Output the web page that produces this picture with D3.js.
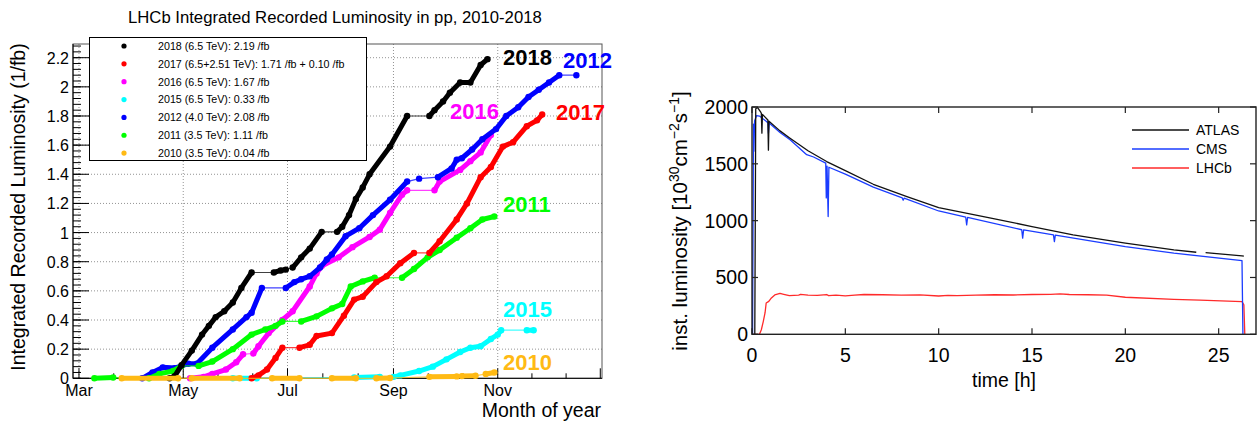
<!DOCTYPE html>
<html><head><meta charset="utf-8">
<script src="https://cdn.jsdelivr.net/npm/d3@7"></script>
<style>
html,body{margin:0;padding:0;background:#fff;}
svg{display:block;font-family:"Liberation Sans",Arial,Helvetica,sans-serif;}
</style></head><body>
<svg id="c" width="1260" height="423"></svg>
<script>
// ================= LEFT PANEL DATA (LHCb integrated luminosity) =================
const monthTicks = ["03-01","05-01","07-01","09-01","11-01","12-31"];
const monthLabels = ["Mar","May","Jul","Sep","Nov",""];
const lumiTicks = [0,0.2,0.4,0.6,0.8,1,1.2,1.4,1.6,1.8,2,2.2];
const lumiTickLabels = ["0","0.2","0.4","0.6","0.8","1","1.2","1.4","1.6","1.8","2","2.2"];

const legendYears = ["2018","2017","2016","2015","2012","2011","2010"];
const legendTexts = [
  "2018 (6.5 TeV): 2.19 /fb",
  "2017 (6.5+2.51 TeV): 1.71 /fb + 0.10 /fb",
  "2016 (6.5 TeV): 1.67 /fb",
  "2015 (6.5 TeV): 0.33 /fb",
  "2012 (4.0 TeV): 2.08 /fb",
  "2011 (3.5 TeV): 1.11 /fb",
  "2010 (3.5 TeV): 0.04 /fb"
];

// each year: list of data-taking runs, each run a list of [month-day, integrated lumi (1/fb)]
const lumi2018 = [
  [["04-23",0],["04-26",0.015],["04-30",0.09],["05-06",0.19],["05-12",0.30],["05-16",0.36],["05-20",0.42],["05-25",0.46],["05-30",0.52],["06-04",0.62],["06-10",0.726]],
  [["06-23",0.726],["06-27",0.74],["06-30",0.746]],
  [["07-04",0.76],["07-09",0.83],["07-14",0.89],["07-21",1.005]],
  [["07-30",1.005],["08-02",1.04],["08-06",1.12],["08-10",1.23],["08-14",1.31],["08-18",1.40],["08-30",1.59],["09-09",1.80]],
  [["09-22",1.80],["09-25",1.84],["09-30",1.90],["10-04",1.96],["10-10",2.03],["10-16",2.03],["10-22",2.15],["10-26",2.19]]
];
const lumi2017 = [
  [["06-10",0],["06-14",0.02],["06-19",0.06],["06-24",0.14],["06-28",0.21]],
  [["07-08",0.21],["07-14",0.23],["07-18",0.29],["07-27",0.31],["08-03",0.43],["08-09",0.54],["08-14",0.56],["08-22",0.66],["08-28",0.70],["09-05",0.79],["09-13",0.86]],
  [["09-22",0.86],["09-28",0.94],["10-08",1.09],["10-14",1.20],["10-22",1.38],["10-28",1.45],["11-04",1.59],["11-10",1.62],["11-18",1.73],["11-24",1.77],["11-27",1.81]]
];
const lumi2016 = [
  [["05-05",0],["05-13",0.01],["05-18",0.03],["05-26",0.06],["06-01",0.11],["06-05",0.165]],
  [["06-11",0.17],["06-14",0.22],["06-20",0.31],["06-28",0.40],["07-04",0.46],["07-14",0.63],["07-18",0.72],["07-21",0.77],["07-31",0.83],["08-08",0.90],["08-18",0.97],["08-24",1.02],["08-30",1.135],["09-06",1.26],["09-09",1.29]],
  [["09-25",1.29],["09-28",1.35],["10-10",1.43],["10-16",1.49],["10-22",1.55],["10-28",1.67]]
];
const lumi2015 = [
  [["05-30",0],["06-13",0]],
  [["08-09",0.005],["08-24",0.01]],
  [["09-01",0.01],["09-05",0.02],["09-16",0.05],["09-24",0.08],["10-02",0.13],["10-10",0.18],["10-16",0.21],["10-22",0.22],["10-28",0.27],["11-01",0.30],["11-03",0.33]],
  [["11-18",0.33],["11-22",0.33]]
];
const lumi2012 = [
  [["04-07",0],["04-13",0.04],["04-19",0.075],["04-26",0.07],["05-04",0.10],["05-09",0.10],["05-18",0.21],["05-30",0.335],["06-07",0.42],["06-10",0.45],["06-16",0.62]],
  [["06-30",0.62],["07-05",0.66],["07-09",0.68],["07-14",0.70],["07-20",0.76],["07-24",0.815],["07-27",0.85],["08-04",0.975],["08-12",1.03],["08-20",1.12],["08-30",1.225],["09-09",1.35]],
  [["09-16",1.37]],
  [["09-27",1.38],["10-05",1.44],["10-08",1.50],["10-11",1.51],["10-17",1.57],["10-23",1.64],["10-31",1.71],["11-06",1.80],["11-13",1.86],["11-19",1.93],["11-25",1.98],["12-01",2.03],["12-07",2.08]],
  [["12-17",2.08]]
];
const lumi2011 = [
  [["03-10",0],["03-21",0.005]],
  [["04-11",0],["04-17",0.03],["04-25",0.05],["04-30",0.085]],
  [["05-10",0.085],["05-18",0.115],["05-30",0.20],["06-10",0.30],["06-18",0.335],["06-24",0.36],["06-28",0.39]],
  [["07-09",0.39],["07-18",0.425],["07-27",0.48],["08-02",0.51],["08-07",0.63],["08-14",0.665],["08-21",0.69]],
  [["09-06",0.69],["09-13",0.75],["09-21",0.83],["09-28",0.88],["10-08",0.965],["10-16",1.03],["10-23",1.09],["10-30",1.11]]
];
const lumi2010 = [
  [["03-26",0],["04-28",0]],
  [["05-06",0],["06-03",0]],
  [["06-22",0],["07-08",0]],
  [["07-27",0],["08-10",0]],
  [["08-22",0],["08-30",0.002]],
  [["09-22",0.01],["10-08",0.013]],
  [["10-11",0.015],["10-19",0.017]],
  [["10-25",0.03],["10-30",0.04]]
];

// ================= RIGHT PANEL DATA (instantaneous luminosity in one fill) =================
const hourTicks = [0,5,10,15,20,25];
const instTicks = [0,500,1000,1500,2000];
const expNames = ["ATLAS","CMS","LHCb"];
const atlasLumi = [[0.15,0],[0.2,1985],[0.3,1995],[0.45,1960],[0.5,1945],[0.53,1770],[0.56,1935],[0.85,1885],[0.88,1620],[0.91,1875],[1.5,1790],[2,1730],[3,1615],[4,1520],[5,1440],[6.5,1320],[8.3,1212],[10,1115],[12.8,1022],[15,948],[17.2,875],[20,802],[22.6,743],[23.8,722],[24.0,NaN],[24.3,719],[26.25,690],[26.35,688]];
const cmsLumi = [[0,0],[0.03,0],[0.08,1850],[0.1,1610],[0.14,1880],[0.25,1925],[0.4,1920],[0.76,1875],[0.86,1860],[0.88,1770],[0.92,1860],[1.5,1775],[2.04,1712],[2.93,1580],[3.3,1560],[3.95,1506],[3.98,1200],[4.02,1480],[4.08,1036],[4.12,1470],[5,1410],[6.5,1295],[8.05,1200],[8.1,1180],[8.15,1198],[10,1085],[11.45,1030],[11.5,963],[11.55,1028],[14.45,920],[14.5,846],[14.55,918],[16.15,875],[16.2,816],[16.25,873],[20,772],[22.6,714],[26.25,649],[26.3,0]];
const lhcbLumi = [[0,0],[0.4,0],[0.5,40],[0.6,110],[0.7,190],[0.76,275],[0.9,290],[1.04,320],[1.22,346],[1.5,360],[1.7,352],[2,340],[2.5,345],[2.6,352],[3,345],[3.5,342],[4,350],[4.1,340],[4.5,345],[5,338],[5.5,345],[6,350],[7,348],[8,345],[9,347],[10,337],[10.5,343],[11,340],[12,345],[13,348],[14,346],[15,350],[16,352],[16.5,355],[17,350],[18,348],[19,345],[20,326],[22.6,308],[24,300],[26.25,287],[26.35,260],[26.4,0]];

// ================= STYLE =================
const yearColor = {"2018":"#000000","2017":"#ff0000","2016":"#ff00ff","2015":"#00ffff","2012":"#0000ff","2011":"#00ff00","2010":"#ffba14"};
const yearSeries = {"2018":lumi2018,"2017":lumi2017,"2016":lumi2016,"2015":lumi2015,"2012":lumi2012,"2011":lumi2011,"2010":lumi2010};
const drawOrder = ["2016","2015","2012","2011","2017","2018","2010"];
const expColor = {"ATLAS":"#111111","CMS":"#1a3cff","LHCb":"#ff2a2a"};
const expSeries = {"ATLAS":atlasLumi,"CMS":cmsLumi,"LHCb":lhcbLumi};

const svg = d3.select("#c");
const parseMD = s => d3.timeParse("%Y-%m-%d")("2018-" + s);

// ---------------- LEFT PANEL ----------------
const L = {left:73, right:602, top:44, bottom:378.3};
const x = d3.scaleTime().domain([new Date(2018,1,25,12), new Date(2019,0,1)]).range([L.left, L.right]);
const y = d3.scaleLinear().domain([0, 2.294]).range([L.bottom, L.top]);

const gl = svg.append("g");
gl.append("text").attr("x", 128).attr("y", 23.3).attr("text-anchor","start")
  .attr("font-size", 16.7).attr("fill","#000").text("LHCb Integrated Recorded Luminosity in pp, 2010-2018");

// grid
const majorDates = monthTicks.map(parseMD);
gl.append("g").selectAll("line").data(majorDates.slice(0,5)).join("line")
  .attr("x1", d=>x(d)).attr("x2", d=>x(d)).attr("y1", L.top).attr("y2", L.bottom)
  .attr("stroke","#777").attr("stroke-width",0.8).attr("stroke-dasharray","1,2");
gl.append("g").selectAll("line").data(lumiTicks.slice(1)).join("line")
  .attr("x1", L.left).attr("x2", L.right).attr("y1", d=>y(d)).attr("y2", d=>y(d))
  .attr("stroke","#777").attr("stroke-width",0.8).attr("stroke-dasharray","1,2");

// frame
gl.append("rect").attr("x",L.left).attr("y",L.top).attr("width",L.right-L.left).attr("height",L.bottom-L.top)
  .attr("fill","none").attr("stroke","#555").attr("stroke-width",1);
gl.append("line").attr("x1",L.left).attr("x2",L.left).attr("y1",L.top).attr("y2",L.bottom).attr("stroke","#000");
gl.append("line").attr("x1",L.left).attr("x2",L.right).attr("y1",L.bottom).attr("y2",L.bottom).attr("stroke","#000");

// y axis ticks
const yMinor = d3.range(0, 2.29, 0.04);
gl.append("g").selectAll("line").data(yMinor).join("line")
  .attr("x1",L.left).attr("x2",L.left+8).attr("y1",d=>y(d)).attr("y2",d=>y(d)).attr("stroke","#000");
gl.append("g").selectAll("line").data(lumiTicks).join("line")
  .attr("x1",L.left).attr("x2",L.left+16).attr("y1",d=>y(d)).attr("y2",d=>y(d)).attr("stroke","#000");
gl.append("g").selectAll("text").data(lumiTicks).join("text")
  .attr("x", L.left-4).attr("y", d=>y(d)+6).attr("text-anchor","end").attr("font-size",16)
  .text((d,i)=>lumiTickLabels[i]);

// x axis ticks
const xMinor = [];
for (let i=0;i<majorDates.length-1;i++){
  const a=+majorDates[i], b=+majorDates[i+1];
  for (let k=1;k<3;k++) xMinor.push(new Date(a+(b-a)*k/3));
}
gl.append("g").selectAll("line").data(xMinor).join("line")
  .attr("x1",d=>x(d)).attr("x2",d=>x(d)).attr("y1",L.bottom).attr("y2",L.bottom-5).attr("stroke","#000");
gl.append("g").selectAll("line").data(majorDates).join("line")
  .attr("x1",d=>x(d)).attr("x2",d=>x(d)).attr("y1",L.bottom).attr("y2",L.bottom-10).attr("stroke","#000");
gl.append("g").selectAll("text").data(majorDates).join("text")
  .attr("x",d=>x(d)).attr("y",396).attr("text-anchor","middle").attr("font-size",16)
  .text((d,i)=>monthLabels[i]);

gl.append("text").attr("x",601).attr("y",417).attr("text-anchor","end").attr("font-size",19.5).text("Month of year");
gl.append("text").attr("transform","translate(25,207) rotate(-90)").attr("text-anchor","middle")
  .attr("font-size",19.5).text("Integrated Recorded Luminosity (1/fb)");

// series
const lineGen = d3.line().x(d=>x(parseMD(d[0]))).y(d=>y(d[1]));
const plotG = gl.append("g");
drawOrder.forEach(yr=>{
  const runs = yearSeries[yr], col = yearColor[yr];
  const g = plotG.append("g");
  g.append("path").attr("d", lineGen(runs.flat())).attr("fill","none")
    .attr("stroke",col).attr("stroke-width",1.2).attr("stroke-opacity",0.75);
  runs.forEach(run=>{
    if (run.length>1) g.append("path").attr("d", lineGen(run)).attr("fill","none")
      .attr("stroke",col).attr("stroke-width",5).attr("stroke-linejoin","round").attr("stroke-linecap","round");
    g.selectAll(null).data(run).join("circle")
      .attr("cx",d=>x(parseMD(d[0]))).attr("cy",d=>y(d[1])).attr("r",3.2).attr("fill",col);
  });
});

// year labels
const yl = [["2018",503,65],["2012",563,68],["2016",450,119],["2017",556,120],["2011",503,212],["2015",503,317],["2010",503,370]];
gl.append("g").selectAll("text").data(yl).join("text")
  .attr("x",d=>d[1]).attr("y",d=>d[2]).attr("font-size",22).attr("font-weight","bold")
  .attr("fill",d=>yearColor[d[0]]).text(d=>d[0]);

// legend
const lg = gl.append("g");
lg.append("rect").attr("x",89.5).attr("y",37.5).attr("width",277).attr("height",123)
  .attr("fill","#fff").attr("stroke","#000").attr("stroke-width",1);
legendYears.forEach((yr,i)=>{
  const cy = 46 + i*17.85;
  lg.append("circle").attr("cx",124).attr("cy",cy).attr("r",2.6).attr("fill",yearColor[yr]);
  lg.append("text").attr("x",158).attr("y",cy+3.8).attr("font-size",10.7).text(legendTexts[i]);
});

// ---------------- RIGHT PANEL ----------------
const R = {left:752, right:1256, top:107, bottom:334.3};
const xr = d3.scaleLinear().domain([0,27]).range([R.left,R.right]);
const yr = d3.scaleLinear().domain([0,2000]).range([R.bottom,R.top]);
const gr = svg.append("g");

const lineR = d3.line().defined(d=>!isNaN(d[1])).x(d=>xr(d[0])).y(d=>yr(d[1]));
["LHCb","CMS","ATLAS"].forEach(n=>{
  gr.append("path").attr("d",lineR(expSeries[n])).attr("fill","none")
    .attr("stroke",expColor[n]).attr("stroke-width",1.3).attr("stroke-linejoin","round");
});

gr.append("rect").attr("x",R.left).attr("y",R.top).attr("width",R.right-R.left).attr("height",R.bottom-R.top)
  .attr("fill","none").attr("stroke","#222").attr("stroke-width",1.4);
// ticks inside on all sides
gr.append("g").selectAll("line").data(hourTicks).join("line")
  .attr("x1",d=>xr(d)).attr("x2",d=>xr(d)).attr("y1",R.bottom).attr("y2",R.bottom-6).attr("stroke","#222").attr("stroke-width",1.2);
gr.append("g").selectAll("line").data(hourTicks).join("line")
  .attr("x1",d=>xr(d)).attr("x2",d=>xr(d)).attr("y1",R.top).attr("y2",R.top+6).attr("stroke","#222").attr("stroke-width",1.2);
gr.append("g").selectAll("line").data(instTicks).join("line")
  .attr("x1",R.left).attr("x2",R.left+6).attr("y1",d=>yr(d)).attr("y2",d=>yr(d)).attr("stroke","#222").attr("stroke-width",1.2);
gr.append("g").selectAll("line").data(instTicks).join("line")
  .attr("x1",R.right).attr("x2",R.right-6).attr("y1",d=>yr(d)).attr("y2",d=>yr(d)).attr("stroke","#222").attr("stroke-width",1.2);
gr.append("g").selectAll("text").data(hourTicks).join("text")
  .attr("x",d=>xr(d)).attr("y",362).attr("text-anchor","middle").attr("font-size",19.5).text(d=>d);
gr.append("g").selectAll("text").data(instTicks).join("text")
  .attr("x",R.left-4).attr("y",d=>yr(d)+7).attr("text-anchor","end").attr("font-size",19.5).text(d=>d);

gr.append("text").attr("x",1004).attr("y",387).attr("text-anchor","middle").attr("font-size",19.5).text("time [h]");
const yt = gr.append("text").attr("transform","translate(687,221) rotate(-90)").attr("text-anchor","middle").attr("font-size",20.5);
yt.append("tspan").text("inst. luminosity [10");
yt.append("tspan").attr("dy",-8).attr("font-size",14).text("30");
yt.append("tspan").attr("dy",8).text("cm");
yt.append("tspan").attr("dy",-8).attr("font-size",14).text("\u22122");
yt.append("tspan").attr("dy",8).text("s");
yt.append("tspan").attr("dy",-8).attr("font-size",14).text("\u22121");
yt.append("tspan").attr("dy",8).text("]");

// legend right
expNames.forEach((n,i)=>{
  const cy = 130 + i*19;
  gr.append("line").attr("x1",1132).attr("x2",1189).attr("y1",cy).attr("y2",cy).attr("stroke",expColor[n]).attr("stroke-width",1.3);
  gr.append("text").attr("x",1196).attr("y",cy+5).attr("font-size",14).text(n);
});
</script>
</body></html>
